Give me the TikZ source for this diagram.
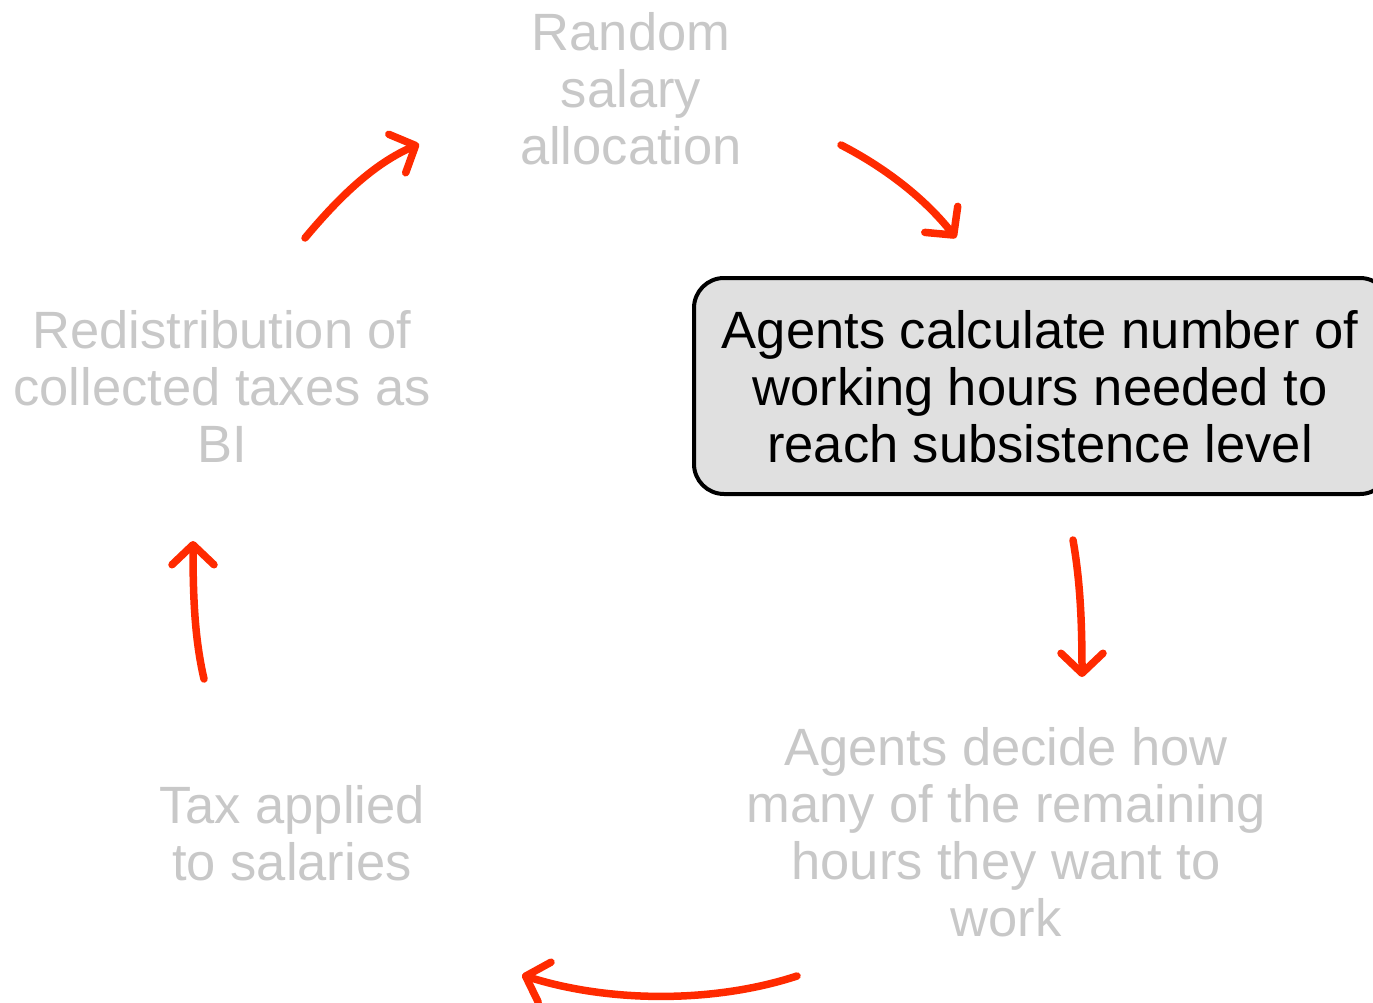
\documentclass[tikz,border=0pt]{standalone}
\usepackage{fontspec}
\setmainfont{Liberation Sans}
\usetikzlibrary{arrows.meta}
\definecolor{fade}{RGB}{200,200,200}
\definecolor{arr}{RGB}{255,42,0}
\definecolor{boxfill}{RGB}{224,224,224}
\begin{document}
\begin{tikzpicture}[x=1pt,y=-1pt,
  every node/.style={font=\fontsize{52.5}{57}\selectfont, align=center, inner sep=0pt},
  faded/.style={text=fade},
  mainbox/.style={draw=black, line width=4pt, fill=boxfill, rounded corners=30pt},
  cyc/.style={draw=arr, line width=7.5pt, line cap=round,
    -{Straight Barb[length=20pt,width=42pt,line cap=round,line join=round]}}
]
\useasboundingbox (0,0) rectangle (1373,1003);
\draw[mainbox] (694,278) rectangle (1390,494);
\node (box) at (1040,387) {Agents calculate number of\\working hours needed to\\reach subsistence level};
\node[faded] (rand) at (631,89) {Random\\salary\\allocation};
\node[faded] (redis) at (222,386) {Redistribution of\\collected taxes as\\BI};
\node[faded] (tax) at (292,833) {Tax applied\\to salaries};
\node[faded] (decide) at (1006,832) {Agents decide how\\many of the remaining\\hours they want to\\work};
\coordinate (a1s) at (305,238); \coordinate (a1e) at (419,144);
\coordinate (a2s) at (841,145); \coordinate (a2e) at (956,238);
\coordinate (a3s) at (1073,540); \coordinate (a3e) at (1082,677);
\coordinate (a4s) at (797,976); \coordinate (a4e) at (522,975);
\coordinate (a5s) at (204,679); \coordinate (a5e) at (193,541);
\draw[cyc] (a1s) .. controls (345,190) and (378,162) .. (a1e);
\draw[cyc] (a2s) .. controls (880,165) and (922,195) .. (a2e);
\draw[cyc] (a3s) .. controls (1080,580) and (1082,620) .. (a3e);
\draw[cyc] (a4s) .. controls (715,1003) and (610,1003) .. (a4e);
\draw[cyc] (a5s) .. controls (195,640) and (193,600) .. (a5e);
\end{tikzpicture}
\end{document}
